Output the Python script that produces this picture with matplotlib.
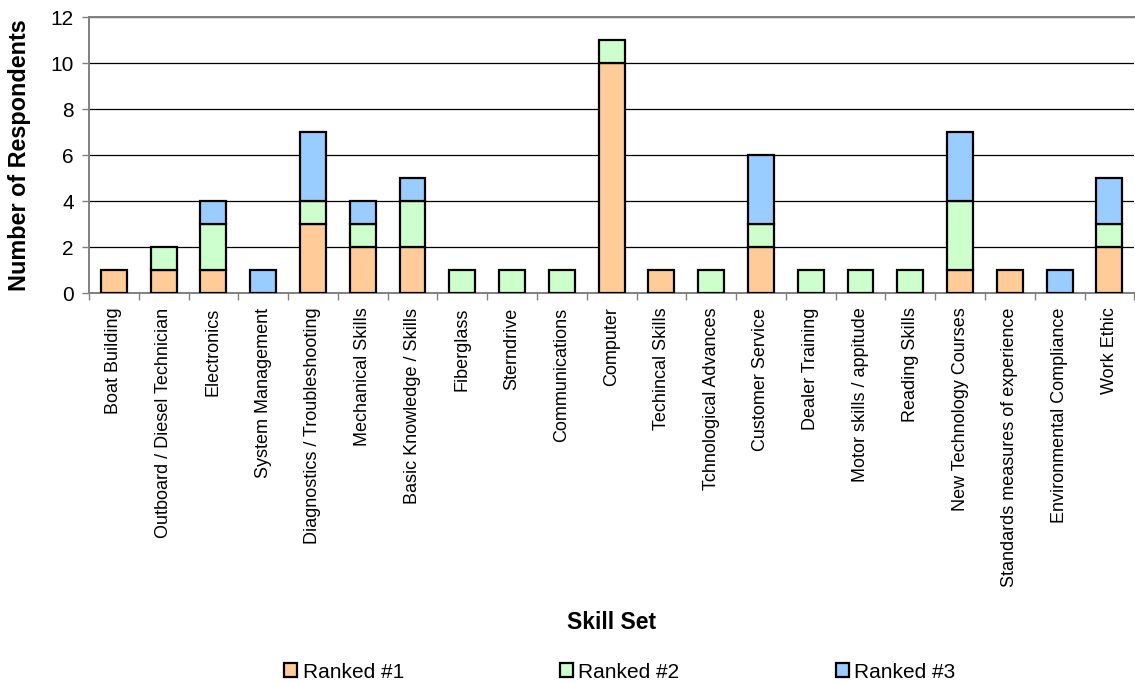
import matplotlib
matplotlib.use("Agg")
import matplotlib.pyplot as plt
import numpy as np

plt.rcParams['font.family'] = ['Liberation Sans', 'DejaVu Sans']

skills = [
    "Boat Building", "Outboard / Diesel Technician", "Electronics",
    "System Management", "Diagnostics / Troubleshooting", "Mechanical Skills",
    "Basic Knowledge / Skills", "Fiberglass", "Sterndrive", "Communications",
    "Computer", "Techincal Skills", "Tchnological Advances", "Customer Service",
    "Dealer Training", "Motor skills / appitude", "Reading Skills",
    "New Technology Courses", "Standards measures of experience",
    "Environmental Compliance", "Work Ethic",
]
ranked_1 = [1, 1, 1, 0, 3, 2, 2, 0, 0, 0, 10, 1, 0, 2, 0, 0, 0, 1, 1, 0, 2]
ranked_2 = [0, 1, 2, 0, 1, 1, 2, 1, 1, 1, 1, 0, 1, 1, 1, 1, 1, 3, 0, 0, 1]
ranked_3 = [0, 0, 1, 1, 3, 1, 1, 0, 0, 0, 0, 0, 0, 3, 0, 0, 0, 3, 0, 1, 2]
series_names = ["Ranked #1", "Ranked #2", "Ranked #3"]
colors = ["#FFCC99", "#CCFFCC", "#99CCFF"]

fig = plt.figure(figsize=(11.35, 6.83), dpi=100)
ax = fig.add_axes([0.0784, 0.571, 0.921, 0.404])

x = np.arange(len(skills))
bottom = np.zeros(len(skills))
handles = []
for vals, name, col in zip([ranked_1, ranked_2, ranked_3], series_names, colors):
    v = np.array(vals, dtype=float)
    mask = v > 0
    ax.bar(x[mask], v[mask], bottom=bottom[mask], width=0.52, color=col,
           edgecolor="black", linewidth=1.6, zorder=3)
    bottom += v
    handles.append(plt.Rectangle((0, 0), 1, 1, facecolor=col,
                                 edgecolor="black", linewidth=1.6))

ax.set_xlim(-0.5, len(skills) - 0.5)
ax.set_ylim(0, 12)
ax.set_yticks(range(0, 13, 2))
ax.yaxis.grid(True, color="black", linewidth=0.9, zorder=0)
ax.set_axisbelow(True)

ax.set_xticks(x)
ax.set_xticklabels(skills, rotation=90, fontsize=13)
ax.set_xticks(np.arange(-0.5, len(skills) + 0.5, 1), minor=True)
ax.tick_params(axis="x", which="major", length=0, pad=10.5)
ax.tick_params(axis="x", which="minor", length=5, color="#808080", width=1)
ax.tick_params(axis="y", labelsize=15, length=5, color="#808080", width=1, pad=6)

for side in ["left", "bottom", "top"]:
    ax.spines[side].set_color("#808080")
    ax.spines[side].set_linewidth(1.4)
ax.spines["right"].set_visible(False)

fig.text(0.0172, 0.773, "Number of Respondents", rotation=90, fontsize=16.8,
         fontweight="bold", ha="center", va="center")
fig.text(0.539, 0.089, "Skill Set", fontsize=16.5, fontweight="bold",
         ha="center", va="center")

fig.legend(handles, series_names, loc="center", bbox_to_anchor=(0.546, 0.016),
           ncol=3, frameon=False, fontsize=15, handlelength=0.62,
           handleheight=0.62, handletextpad=0.25, columnspacing=7.5,
           borderpad=0, borderaxespad=0)

fig.savefig("out.png", dpi=100)
